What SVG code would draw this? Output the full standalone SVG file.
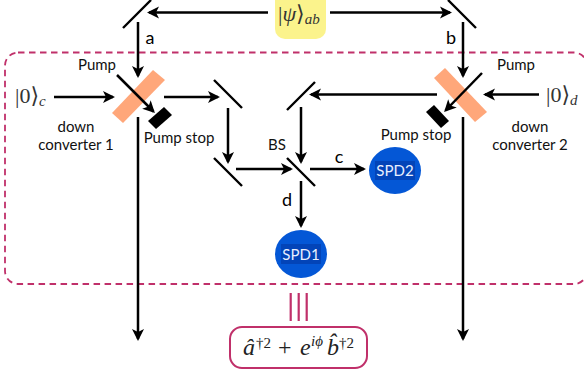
<svg xmlns="http://www.w3.org/2000/svg" width="584" height="372" viewBox="0 0 584 372">
<style>
.c{stroke:#000;stroke-width:2.5;fill:none;marker-end:url(#ah)}
.m{stroke:#000;stroke-width:2.4;fill:none}
.t{font-family:"Lato","Open Sans",sans-serif;font-size:15px;fill:#111;text-anchor:middle}
.l{font-family:"Lato","Open Sans",sans-serif;font-size:18px;fill:#000;text-anchor:middle}
.s{font-family:"Lato","Open Sans",sans-serif;font-size:15px;fill:#e8efff;text-anchor:middle}
.q{font-family:"Liberation Serif","DejaVu Serif",serif;font-size:22px;fill:#333}
.f{font-size:24px;fill:#222}
.i{font-style:italic}
.x{font-size:15px;font-style:italic}
.u{font-size:15px}
.crystal{fill:#ffa77a}
.det{fill:#0457d6}
.detl{fill:#0344b8}
</style>
<defs>
<marker id="ah" markerUnits="userSpaceOnUse" markerWidth="16" markerHeight="16" viewBox="0 -8 16 16" refX="10" refY="0" orient="auto">
<path d="M0,-6L12,0L0,6L3,0Z" fill="#000"/>
</marker>
</defs>
<rect id="frame" x="5" y="52.500" width="582" height="231.500" rx="13" fill="none" stroke="#c0306a" stroke-width="1.800" stroke-dasharray="6.500 4.500"/>
<g id="crystal-1"><polygon class="crystal" points="112,113 153,70 165,80 123,123"/></g>
<g id="crystal-2"><polygon class="crystal" points="434,78 445,68 487,112 475,122"/></g>
<g id="stop-1"><polygon points="148,121 164,107 172,115 156,129" fill="#000"/></g>
<g id="stop-2"><polygon points="426,112 434,105 449,121 441,128" fill="#000"/></g>
<g id="mirrors">
<path class="m" d="M123,28L151,0M448,0L476,28M214,80L242,108M214,158L242,186M287,158L315,186M287,110L315,82"/>
</g>
<g id="connectors">
<path class="c" d="M268,12.500H149"/>
<path class="c" d="M330,12.500H450"/>
<path class="c" d="M138,22V76"/>
<path class="c" d="M463,22V76"/>
<path class="c" d="M54,97H113"/>
<path class="c" d="M164,97H218"/>
<path class="c" d="M228,108V162"/>
<path class="c" d="M236,169H291"/>
<path class="c" d="M301,107V162"/>
<path class="c" d="M310,169H364"/>
<path class="c" d="M301,181V226"/>
<path class="c" d="M437,94.500H311"/>
<path class="c" d="M539,94.500H485"/>
<path class="c" d="M117,75L153.500,111.500"/>
<path class="c" d="M482,73L445.500,110.500"/>
<path class="c" d="M138,117V339"/>
<path class="c" d="M463,117V339"/>
</g>
<g id="psi">
<path d="M275,0H326V29A10,10 0 0 1 316,39H285A10,10 0 0 1 275,29Z" fill="#fbf38c"/>
<text class="q" x="278" y="21">|<tspan class="i">ψ</tspan>⟩<tspan class="x" dy="3">ab</tspan></text>
</g>
<g id="spd2"><ellipse class="det" cx="395" cy="170.500" rx="26" ry="23.500"/><rect class="detl" x="375" y="161" width="40" height="19"/><text class="s" x="395" y="176">SPD2</text></g>
<g id="spd1"><ellipse class="det" cx="301" cy="254" rx="26" ry="24"/><rect class="detl" x="281" y="244" width="40" height="20"/><text class="s" x="301" y="259.500">SPD1</text></g>
<g id="equiv"><path d="M290.700,293V321M298.700,293V321M306.700,293V321" stroke="#c0306a" stroke-width="2.200" fill="none"/></g>
<g id="formula">
<rect x="230" y="327" width="137" height="41" rx="12" fill="#fff" stroke="#c0306a" stroke-width="2"/>
<text class="q f" x="243" y="355"><tspan class="i">â</tspan><tspan class="u" x="256" y="348">†2</tspan><tspan x="278" y="355">+</tspan><tspan class="i" x="300" y="355">e</tspan><tspan class="x" x="311" y="346">iϕ</tspan><tspan class="i" x="327" y="355">b̂</tspan><tspan class="u" x="339" y="348">†2</tspan></text>
</g>
<g id="labels">
<text class="q" x="15" y="103">|0⟩<tspan class="x" dy="3">c</tspan></text>
<text class="q" x="546" y="102">|0⟩<tspan class="x" dy="3">d</tspan></text>
<text class="l" x="150" y="44">a</text>
<text class="l" x="451" y="44">b</text>
<text class="l" x="339" y="163">c</text>
<text class="l" x="287" y="206">d</text>
<text class="t" x="97" y="70">Pump</text>
<text class="t" x="516" y="70">Pump</text>
<text class="t" x="76" y="132">down</text>
<text class="t" x="76" y="150">converter 1</text>
<text class="t" x="530" y="132">down</text>
<text class="t" x="530" y="150">converter 2</text>
<text class="t" x="179" y="143">Pump stop</text>
<text class="t" x="416" y="140">Pump stop</text>
<text class="t" x="277" y="150">BS</text>
</g>
</svg>
